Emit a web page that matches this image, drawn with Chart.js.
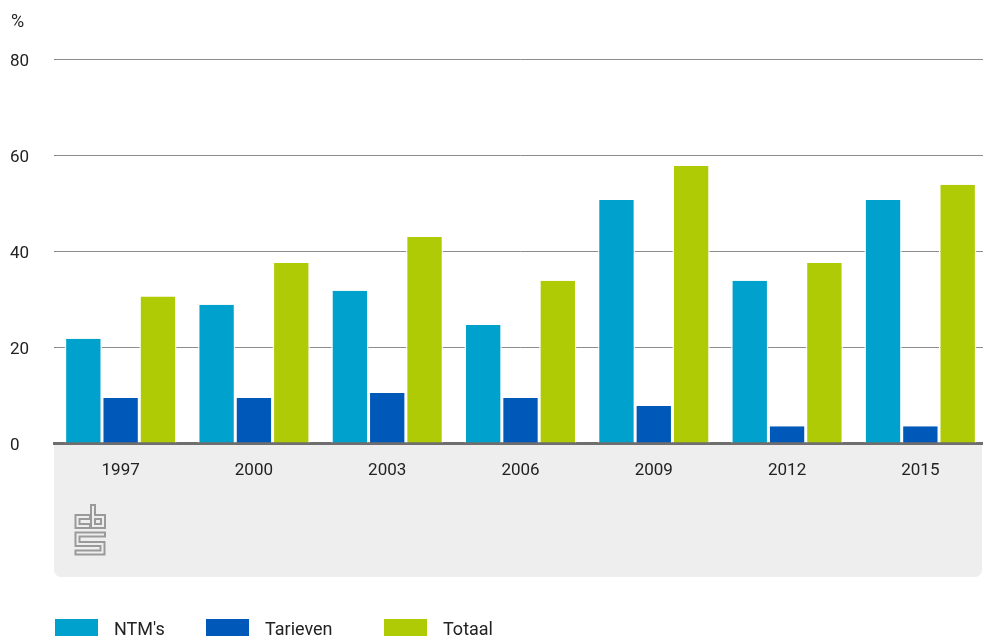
<!DOCTYPE html>
<html>
<head>
<meta charset="utf-8">
<script src="https://cdn.jsdelivr.net/npm/chart.js@4"></script>
<style>
  html, body { margin: 0; background: #fff; overflow: hidden; }
  canvas { display: block; }
</style>
</head>
<body>
<canvas id="chart" width="987" height="636"></canvas>
<script>
(() => {

    const years = ['1997', '2000', '2003', '2006', '2009', '2012', '2015'];
    const ntms = [21.7, 28.8, 31.7, 24.6, 50.6, 33.8, 50.6];
    const tarieven = [9.4, 9.4, 10.4, 9.4, 7.7, 3.5, 3.5];
    const totaal = [30.5, 37.5, 42.9, 33.8, 57.7, 37.5, 53.8];
    const yTicks = [0, 20, 40, 60, 80];

    const font = 'Roboto, "Noto Sans", sans-serif';
    const panelColor = '#eeeeee';
    const legendX = [55, 206, 384];

    // grey band under the x axis with the cbs logo in it
    const panel = {
        id: 'panel',
        beforeDraw(chart) {
            const ctx = chart.ctx;
            const a = chart.chartArea;
            ctx.save();
            ctx.fillStyle = panelColor;
            ctx.beginPath();
            ctx.roundRect(a.left, a.bottom, 982 - a.left, 577 - a.bottom, [0, 0, 7, 7]);
            ctx.fill();

            // logo: outlined strokes
            const x0 = 75, y0 = 507;
            const paths = [
                [[13, 10], [2.5, 10], [2.5, 19], [13, 19]],
                [[18, 0], [18, 19], [28, 19], [28, 10], [18, 10]],
                [[28, 27.5], [2.5, 27.5], [2.5, 37], [27.5, 37], [27.5, 45.5], [2.5, 45.5]]
            ];
            const strokeAll = (w, c) => {
                ctx.lineWidth = w;
                ctx.strokeStyle = c;
                ctx.lineJoin = 'miter';
                ctx.lineCap = 'square';
                paths.forEach(p => {
                    ctx.beginPath();
                    p.forEach(([px, py], i) => i ? ctx.lineTo(x0 + px, y0 + py) : ctx.moveTo(x0 + px, y0 + py));
                    ctx.stroke();
                });
            };
            strokeAll(6, '#9a9a9a');
            strokeAll(2, panelColor);
            ctx.restore();
        },
        afterDraw(chart) {
            const ctx = chart.ctx;
            ctx.save();
            ctx.fillStyle = '#222';
            ctx.font = '18px ' + font;
            ctx.textBaseline = 'middle';
            ctx.fillText('%', 11, 22);

            // legend along the bottom edge
            ctx.font = '18px ' + font;
            ctx.textBaseline = 'alphabetic';
            chart.data.datasets.forEach((ds, i) => {
                const x = legendX[i];
                ctx.fillStyle = ds.backgroundColor;
                ctx.fillRect(x, 619, 43, 18);
                ctx.fillStyle = '#222';
                ctx.fillText(ds.label, x + 59, 635);
            });
            ctx.restore();
        }
    };

    const ctx = document.getElementById('chart').getContext('2d');
    const bar = (label, data, color) => ({
        label: label,
        data: data,
        backgroundColor: color,
        borderColor: '#ffffff',
        borderWidth: { left: 1.5, right: 1.5, top: 0, bottom: 0 },
        borderSkipped: false,
        barPercentage: 1,
        categoryPercentage: 0.84
    });

    new Chart(ctx, {
        type: 'bar',
        data: {
            labels: years,
            datasets: [
                bar("NTM's", ntms, '#00a1cd'),
                bar('Tarieven', tarieven, '#0058b8'),
                bar('Totaal', totaal, '#afcb05')
            ]
        },
        plugins: [panel],
        options: {
            responsive: false,
            animation: false,
            layout: { padding: { left: 10, right: 0, top: 59, bottom: 0 } },
            plugins: {
                legend: { display: false },
                tooltip: { enabled: false }
            },
            scales: {
                x: {
                    grid: { display: false, drawTicks: false },
                    border: { display: true, color: '#6e6e6e', width: 3 },
                    ticks: { color: '#222', font: { family: font, size: 17 }, padding: 18 },
                    afterFit: s => { s.height = 636 - 443; }
                },
                y: {
                    min: 0,
                    max: 80,
                    afterBuildTicks: s => { s.ticks = yTicks.map(v => ({ value: v })); },
                    grid: { color: '#8c8c8c', lineWidth: 1, drawTicks: false },
                    border: { display: false },
                    ticks: { color: '#222', font: { family: font, size: 17 }, crossAlign: 'far', padding: 0, labelOffset: 3 },
                    afterFit: s => { s.width = 44; }
                }
            }
        }
    });

})()
</script>
</body>
</html>
